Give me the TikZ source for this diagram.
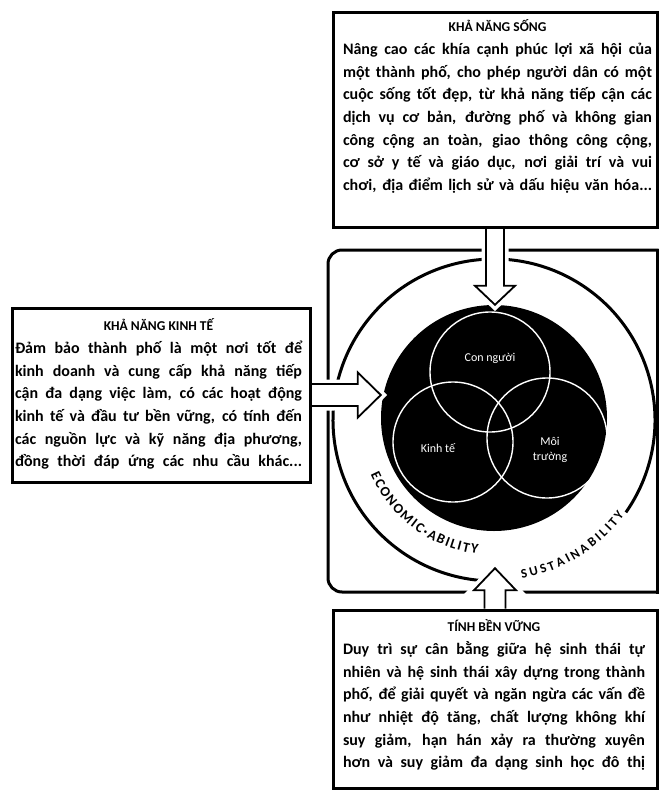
\documentclass[tikz,border=0pt]{standalone}
\usepackage{fontspec}
\setmainfont{Carlito}
\usetikzlibrary{calc, decorations.text}
\pgfdeclarelayer{front}
\pgfsetlayers{main,front}

\newcommand{\paneltitle}[1]{{\centering\fontsize{13.5}{22.7}\selectfont #1\par}}
\newcommand{\panelbody}[1]{{\parindent=0pt\parfillskip=0pt #1\par}}
% block arrow: from, to, half shaft, half head, head length
\newcommand{\fatarrow}[5]{%
  \coordinate (hb) at ($(#2)!#5!(#1)$);
  \draw[fatarrow] ($(#1)!#3!90:(#2)$) -- ($(hb)!#3!90:(#2)$) -- ($(hb)!#4!90:(#2)$)
    -- (#2) -- ($(hb)!#4!-90:(#2)$) -- ($(hb)!#3!-90:(#2)$) -- ($(#1)!#3!-90:(#2)$);
}

\begin{document}
\begin{tikzpicture}[x=1pt, y=1pt,
  panel/.style={draw, fill=white, line width=3pt, inner sep=0pt},
  paneltext/.style={inner sep=0pt, align=justify, font=\bfseries\fontsize{16}{22.7}\selectfont},
  frameline/.style={line width=3pt, line cap=rect},
  ringline/.style={line width=3pt},
  venn/.style={circle, draw=white, line width=1.4pt, minimum size=120pt, inner sep=0pt},
  vennlabel/.style={text=white, font=\fontsize{12}{14.5}\selectfont, align=center, inner sep=0pt},
  fatarrow/.style={draw, fill=white, line width=1.8pt, line join=miter,
    preaction={draw=white, line width=9pt}}]
  \path[use as bounding box, fill=white] (0,0) rectangle (660,-795);

  % Frame
  \draw[frameline, rounded corners=14pt] (657,-592) -- (328,-592) -- (328,-250) -- (657,-250);
  \draw[frameline] (657,-250) -- (657,-592);

  % Ring and disk
  \node[circle, minimum size=322pt, inner sep=0pt] (ring) at (494,-420) {};
  \draw[ringline] ([shift={(-35:161pt)}]ring.center) arc[start angle=-35, end angle=271, radius=161pt];
  \node[circle, fill=black, minimum size=226pt, inner sep=0pt] (disk) at (494,-418) {};
  \node[venn] (con) at (490,-372) {};
  \node[venn] (kte) at (453,-442) {};
  \node[venn] (moi) at (547,-438) {};
  \node[vennlabel] (conlbl) at (490,-358) {Con người};
  \node[vennlabel] (ktelbl) at (438,-448) {Kinh tế};
  \node[vennlabel] (moilbl) at (550,-450) {Môi\\trường};

  % Curved labels
  \path[decorate, decoration={text along path, text align={fit to path},
    text={|\bfseries\fontsize{14}{14}\selectfont|ECONOMIC·ABILITY}}]
    ([shift={(204:135pt)}]ring.center) arc[start angle=204, end angle=263, radius=135pt];
  \path[decorate, decoration={text along path, text align={fit to path},
    text={|\bfseries\fontsize{13}{13}\selectfont|SUSTAINABILITY}}]
    ([shift={(280:161pt)}]ring.center) arc[start angle=280, end angle=324, radius=161pt];

  % Panels
  \begin{pgfonlayer}{front}
  \node[panel, minimum width=324pt, minimum height=215pt] (song) at (495,-119.5) {};
  \node[paneltext, text width=309pt, anchor=north] (songtxt) at (497.5,-19.5) {%
    \paneltitle{KHẢ NĂNG SỐNG}%
    \panelbody{Nâng cao các khía cạnh phúc lợi xã hội của\linebreak
    một thành phố, cho phép người dân có một\linebreak
    cuộc sống tốt đẹp, từ khả năng tiếp cận các\linebreak
    dịch vụ cơ bản, đường phố và không gian\linebreak
    công cộng an toàn, giao thông công cộng,\linebreak
    cơ sở y tế và giáo dục, nơi giải trí và vui\linebreak
    chơi, địa điểm lịch sử và dấu hiệu văn hóa...}};

  \node[panel, minimum width=298pt, minimum height=174pt] (kinh) at (161,-395) {};
  \node[paneltext, text width=287pt, anchor=north] (kinhtxt) at (158.5,-318.5) {%
    \paneltitle{KHẢ NĂNG KINH TẾ}%
    \panelbody{Đảm bảo thành phố là một nơi tốt để\linebreak
    kinh doanh và cung cấp khả năng tiếp\linebreak
    cận đa dạng việc làm, có các hoạt động\linebreak
    kinh tế và đầu tư bền vững, có tính đến\linebreak
    các nguồn lực và kỹ năng địa phương,\linebreak
    đồng thời đáp ứng các nhu cầu khác...}};

  \node[panel, minimum width=324pt, minimum height=178pt] (tinh) at (495,-699) {};
  \node[paneltext, text width=302pt, anchor=north] (tinhtxt) at (494,-619.5) {%
    \paneltitle{TÍNH BỀN VỮNG}%
    \panelbody{Duy trì sự cân bằng giữa hệ sinh thái tự\linebreak
    nhiên và hệ sinh thái xây dựng trong thành\linebreak
    phố, để giải quyết và ngăn ngừa các vấn đề\linebreak
    như nhiệt độ tăng, chất lượng không khí\linebreak
    suy giảm, hạn hán xảy ra thường xuyên\linebreak
    hơn và suy giảm đa dạng sinh học đô thị}};
  \end{pgfonlayer}

  % Arrows
  \coordinate (sustip) at ([yshift=13pt]ring.south);
  \fatarrow{song.south}{song.south |- disk.north}{9pt}{20pt}{19pt}
  \fatarrow{kinh.east}{kinh.east -| disk.west}{11pt}{22.5pt}{23pt}
  \fatarrow{tinh.north}{tinh.north |- sustip}{10.5pt}{21pt}{22pt}
\end{tikzpicture}
\end{document}
